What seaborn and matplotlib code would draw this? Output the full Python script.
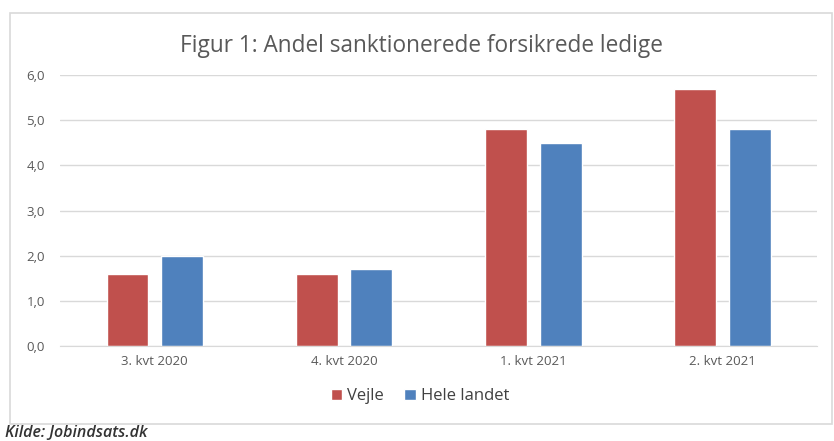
import pandas as pd
import matplotlib.pyplot as plt
import seaborn as sns
from matplotlib.patches import Rectangle

# Data
quarters = ["3. kvt 2020", "4. kvt 2020", "1. kvt 2021", "2. kvt 2021"]
vejle = [1.6, 1.6, 4.8, 5.7]
hele_landet = [2.0, 1.7, 4.5, 4.8]
series_names = ["Vejle", "Hele landet"]
y_ticks = [0, 1, 2, 3, 4, 5, 6]
y_tick_labels = ["0,0", "1,0", "2,0", "3,0", "4,0", "5,0", "6,0"]

df = pd.DataFrame({
    "kvartal": quarters * 2,
    "andel": vejle + hele_landet,
    "serie": [series_names[0]] * len(quarters) + [series_names[1]] * len(quarters),
})

sns.set_style("white")
plt.rcParams['font.family'] = ['Open Sans', 'DejaVu Sans']

fig = plt.figure(figsize=(8.34, 4.41), dpi=100)
ax = fig.add_axes([0.072, 0.215, 0.908, 0.615])

sns.barplot(data=df, x="kvartal", y="andel", hue="serie",
            palette=["#C0504D", "#4F81BD"], width=0.575, gap=0.23,
            saturation=1, ax=ax, legend=True)

ax.set_ylim(0, 6)
ax.set_xlim(-0.5, 3.5)
ax.set_yticks(y_ticks)
ax.set_yticklabels(y_tick_labels)
ax.yaxis.grid(True, color="#D9D9D9", linewidth=1)
ax.set_axisbelow(True)
for s in ["top", "right", "left"]:
    ax.spines[s].set_visible(False)
ax.spines["bottom"].set_color("#D9D9D9")
ax.tick_params(axis="both", length=0, labelsize=9.5, colors="#595959")
ax.tick_params(axis="y", pad=11)
ax.tick_params(axis="x", pad=6)
ax.set_xlabel("")
ax.set_ylabel("")

ax.legend(loc="upper center", bbox_to_anchor=(0.475, -0.1), ncol=2, frameon=False,
          fontsize=12, handlelength=0.7, handleheight=0.7, handletextpad=0.3,
          columnspacing=1.2, labelcolor="#404040")

fig.text(0.505, 0.895, "Figur 1: Andel sanktionerede forsikrede ledige",
         ha="center", va="center", fontsize=16.3, color="#595959")

fig.text(0.006, 0.018, "Kilde: Jobindsats.dk", ha="left", va="center",
         fontsize=11.5, style="italic", fontweight="semibold", color="#333333")

# chart border
fig.patches.append(Rectangle((10 / 834, 1 - 424 / 441), 822 / 834, 411 / 441,
                             transform=fig.transFigure, fill=False,
                             edgecolor="#D9D9D9", linewidth=1.2))

fig.savefig("out.png", dpi=100)
